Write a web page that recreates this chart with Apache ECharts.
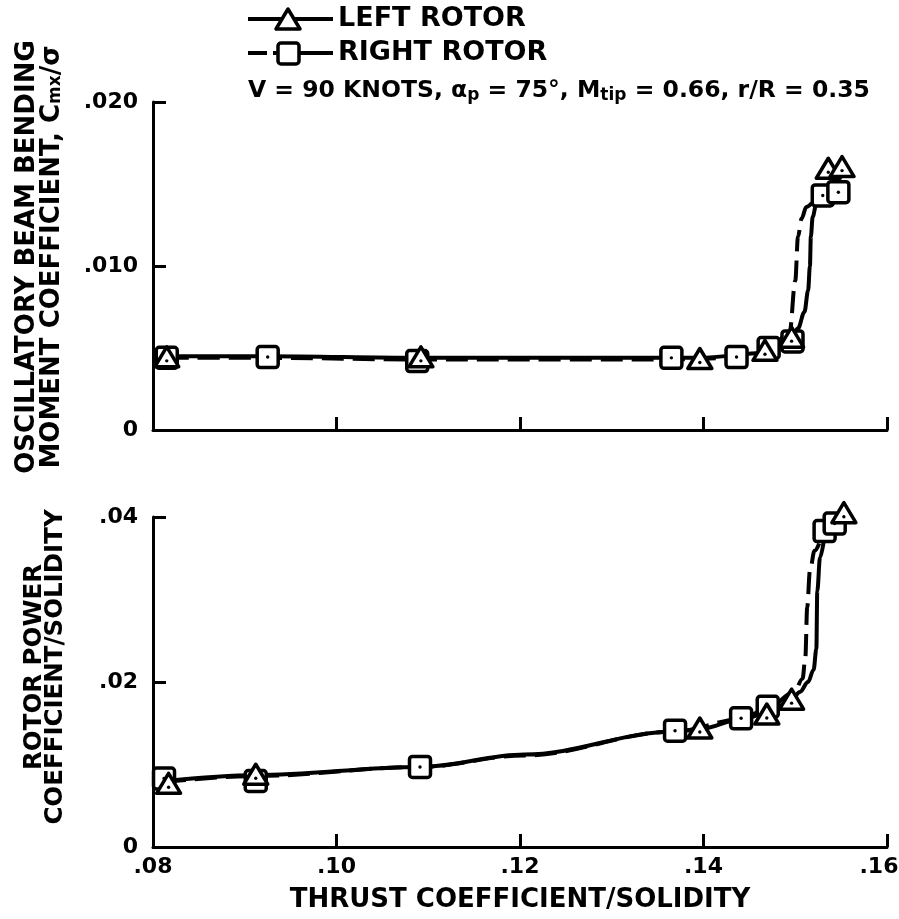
<!DOCTYPE html>
<html>
<head>
<meta charset="utf-8">
<script src="https://cdn.jsdelivr.net/npm/echarts@6/dist/echarts.min.js"></script>
<style>
  html, body { margin: 0; padding: 0; background: #fff; }
  #chart { width: 899px; height: 919px; }
</style>
</head>
<body>
<div id="chart"></div>
<script>
// Tick labels
const xTickLabels = ['.08', '.10', '.12', '.14', '.16'];
const momentTickLabels = ['0', '.010', '.020'];
const powerTickLabels = ['0', '.02', '.04'];

// Oscillatory beam bending moment coefficient: test points
const momentLeftX  = [0.0815, 0.1092, 0.1396, 0.1467, 0.1496, 0.1536, 0.1551];
const momentLeftY  = [0.0044, 0.0044, 0.0043, 0.0048, 0.0056, 0.0159, 0.0160];
const momentRightX = [0.0815, 0.0925, 0.1088, 0.1365, 0.1436, 0.1471, 0.1497, 0.1530, 0.1547];
const momentRightY = [0.0044, 0.00445, 0.0042, 0.0044, 0.00445, 0.0050, 0.0054, 0.0143, 0.0145];

// Oscillatory beam bending moment coefficient: faired curves
const momentLeftCurveX  = [0.0815, 0.0925, 0.1090, 0.1250, 0.1396, 0.1467, 0.1496, 0.1503, 0.1510, 0.1514, 0.1516, 0.1517, 0.1519, 0.1523, 0.1528];
const momentLeftCurveY  = [0.0045, 0.0045, 0.0044, 0.0044, 0.0044, 0.0047, 0.0056, 0.0062, 0.0072, 0.0085, 0.0100, 0.0118, 0.0130, 0.0138, 0.0142];
const momentRightCurveX = [0.0815, 0.0925, 0.1088, 0.1250, 0.1365, 0.1436, 0.1471, 0.1494, 0.1500, 0.1503, 0.1507, 0.1512, 0.1523];
const momentRightCurveY = [0.0044, 0.0044, 0.0043, 0.0043, 0.0043, 0.0044, 0.0048, 0.0060, 0.0091, 0.0118, 0.0129, 0.0136, 0.0142];

// Rotor power coefficient: test points
const powerLeftX  = [0.0817, 0.0912, 0.1396, 0.1469, 0.1496, 0.1553];
const powerLeftY  = [0.0076, 0.0087, 0.0143, 0.0160, 0.0178, 0.0404];
const powerRightX = [0.0812, 0.0912, 0.1091, 0.1369, 0.1441, 0.1470, 0.1532, 0.1543];
const powerRightY = [0.0083, 0.0080, 0.0097, 0.0141, 0.0156, 0.0170, 0.0383, 0.0392];

// Rotor power coefficient: faired curves
const powerLeftCurveX  = [0.0812, 0.0912, 0.1091, 0.1205, 0.1369, 0.1396, 0.1441, 0.1469, 0.1496, 0.1505, 0.1514, 0.1520, 0.1523, 0.1524, 0.1527, 0.1532];
const powerLeftCurveY  = [0.0080, 0.0087, 0.0097, 0.0112, 0.0140, 0.0143, 0.0155, 0.0162, 0.0178, 0.0188, 0.0200, 0.0215, 0.0240, 0.0310, 0.0351, 0.0378];
const powerRightCurveX = [0.0812, 0.0912, 0.1091, 0.1205, 0.1369, 0.1441, 0.1470, 0.1499, 0.1508, 0.1511, 0.1513, 0.1516, 0.1521, 0.1530];
const powerRightCurveY = [0.0079, 0.0086, 0.0097, 0.0111, 0.0140, 0.0155, 0.0168, 0.0188, 0.0204, 0.0230, 0.0290, 0.0335, 0.0359, 0.0380];

const FONT = '"DejaVu Sans", "Liberation Sans", sans-serif';
const zip = (xs, ys) => xs.map((x, i) => [x, ys[i]]);

function triangleMark(params, api) {
  const p = api.coord([api.value(0), api.value(1)]);
  return {
    type: 'group',
    children: [
      { type: 'polygon',
        shape: { points: [[p[0], p[1] - 11], [p[0] - 12, p[1] + 9], [p[0] + 12, p[1] + 9]] },
        style: { fill: '#fff', stroke: '#000', lineWidth: 3.5, lineJoin: 'round' } },
      { type: 'circle', shape: { cx: p[0], cy: p[1] + 3, r: 1.7 }, style: { fill: '#000' } }
    ]
  };
}

function squareMark(params, api) {
  const p = api.coord([api.value(0), api.value(1)]);
  return {
    type: 'group',
    children: [
      { type: 'rect',
        shape: { x: p[0] - 10.5, y: p[1] - 10.5, width: 21, height: 21, r: 3 },
        style: { fill: '#fff', stroke: '#000', lineWidth: 3.5 } },
      { type: 'circle', shape: { cx: p[0], cy: p[1], r: 1.7 }, style: { fill: '#000' } }
    ]
  };
}

const axisLineStyle = { color: '#000', width: 3 };

function xAxisFor(gridIndex, showLabels) {
  return {
    type: 'value', gridIndex,
    min: 0.08, max: 0.16, interval: 0.02,
    axisLine: { show: true, lineStyle: axisLineStyle },
    axisTick: { show: true, inside: true, length: 13, lineStyle: { color: '#000', width: 3 } },
    splitLine: { show: false },
    axisLabel: {
      show: showLabels, margin: 9,
      color: '#000', fontFamily: FONT, fontWeight: 'bold', fontSize: 22,
      formatter: v => {
        const i = Math.round((v - 0.08) / 0.02);
        // the last label sits a little left of its tick so it stays on the page
        return i === xTickLabels.length - 1 ? '{end|' + xTickLabels[i] + '}' : xTickLabels[i];
      },
      rich: { end: { fontFamily: FONT, fontWeight: 'bold', fontSize: 22, color: '#000', padding: [0, 16, 0, 0] } }
    },
    name: showLabels ? 'THRUST COEFFICIENT/SOLIDITY' : '',
    nameLocation: 'middle', nameGap: 40,
    nameTextStyle: { color: '#000', fontFamily: FONT, fontWeight: 'bold', fontSize: 26 }
  };
}

function yAxisFor(gridIndex, max, interval, labels, name, rich, nameGap, shift) {
  return {
    type: 'value', gridIndex,
    min: 0, max, interval,
    axisLine: { show: true, lineStyle: axisLineStyle },
    axisTick: { show: true, inside: true, length: 13, lineStyle: { color: '#000', width: 3 } },
    splitLine: { show: false },
    axisLabel: {
      margin: 15, color: '#000', fontFamily: FONT, fontWeight: 'bold', fontSize: 22,
      formatter: v => labels[Math.round(v / interval)]
    },
    name, nameLocation: 'middle', nameGap, nameRotate: 90,
    nameTextStyle: { color: '#000', fontFamily: FONT, fontWeight: 'bold', fontSize: 26,
      padding: [0, 0, 0, shift], rich }
  };
}

const titleToken = (fs, lh) => ({ fontFamily: FONT, fontWeight: 'bold', fontSize: fs, lineHeight: lh, color: '#000', verticalAlign: 'top' });
const subToken = pad => ({ fontFamily: FONT, fontWeight: 'bold', fontSize: 17, lineHeight: 17, color: '#000', verticalAlign: 'bottom', padding: [pad, 0, 0, 0] });

const chart = echarts.init(document.getElementById('chart'), null, { renderer: 'canvas' });
chart.setOption({
  animation: false,
  backgroundColor: '#fff',
  grid: [
    { left: 153, right: 12, top: 102, height: 328, outerBoundsMode: 'none', containLabel: false },
    { left: 153, right: 12, top: 517, height: 330, outerBoundsMode: 'none', containLabel: false }
  ],
  xAxis: [xAxisFor(0, false), xAxisFor(1, true)],
  yAxis: [
    yAxisFor(0, 0.02, 0.01, momentTickLabels,
      '{t|OSCILLATORY BEAM BENDING}\n{t|MOMENT COEFFICIENT, C}{m|m}{x|x}{t|/σ}',
      { t: titleToken(26, 25), m: subToken(11), x: subToken(16) },
      89, 18),
    yAxisFor(1, 0.04, 0.02, powerTickLabels,
      '{t|ROTOR POWER}\n{t|COEFFICIENT/SOLIDITY}', { t: titleToken(24.5, 21.5) }, 88, 30)
  ],
  graphic: [
    { type: 'line', shape: { x1: 248, y1: 19, x2: 333, y2: 19 }, style: { stroke: '#000', lineWidth: 4 } },
    { type: 'polygon', shape: { points: [[288, 9], [276, 29], [300, 29]] },
      style: { fill: '#fff', stroke: '#000', lineWidth: 3.5, lineJoin: 'round' } },
    { type: 'text', x: 338, y: 19,
      style: { text: 'LEFT ROTOR', fontFamily: FONT, fontWeight: 'bold', fontSize: 27, fill: '#000', verticalAlign: 'middle' } },
    { type: 'line', shape: { x1: 248, y1: 53, x2: 267, y2: 53 }, style: { stroke: '#000', lineWidth: 4 } },
    { type: 'line', shape: { x1: 273, y1: 53, x2: 333, y2: 53 }, style: { stroke: '#000', lineWidth: 4 } },
    { type: 'rect', shape: { x: 278, y: 43, width: 21, height: 21, r: 3 },
      style: { fill: '#fff', stroke: '#000', lineWidth: 3.5 } },
    { type: 'text', x: 338, y: 53,
      style: { text: 'RIGHT ROTOR', fontFamily: FONT, fontWeight: 'bold', fontSize: 27, fill: '#000', verticalAlign: 'middle' } },
    { type: 'text', x: 248, y: 79,
      style: {
        text: '{a|V = 90 KNOTS, α}{s|p}{a| = 75°, M}{s|tip}{a| = 0.66, r/R = 0.35}',
        verticalAlign: 'top',
        rich: {
          a: { fontFamily: FONT, fontWeight: 'bold', fontSize: 23.5, lineHeight: 25, fill: '#000', verticalAlign: 'top' },
          s: { fontFamily: FONT, fontWeight: 'bold', fontSize: 17, lineHeight: 17, fill: '#000', verticalAlign: 'bottom', padding: [12, 0, 0, 0] }
        }
      } }
  ],
  series: [
    { type: 'line', name: 'LEFT ROTOR', xAxisIndex: 0, yAxisIndex: 0,
      data: zip(momentLeftCurveX, momentLeftCurveY), showSymbol: false, smooth: 0.35, smoothMonotone: 'x',
      lineStyle: { color: '#000', width: 4 }, z: 2 },
    { type: 'line', name: 'RIGHT ROTOR', xAxisIndex: 0, yAxisIndex: 0,
      data: zip(momentRightCurveX, momentRightCurveY), showSymbol: false, smooth: 0.35, smoothMonotone: 'x',
      lineStyle: { color: '#000', width: 4, type: [22, 9] }, z: 2 },
    { type: 'line', name: 'LEFT ROTOR', xAxisIndex: 1, yAxisIndex: 1,
      data: zip(powerLeftCurveX, powerLeftCurveY), showSymbol: false, smooth: 0.35, smoothMonotone: 'x',
      lineStyle: { color: '#000', width: 4 }, z: 2 },
    { type: 'line', name: 'RIGHT ROTOR', xAxisIndex: 1, yAxisIndex: 1,
      data: zip(powerRightCurveX, powerRightCurveY), showSymbol: false, smooth: 0.35, smoothMonotone: 'x',
      lineStyle: { color: '#000', width: 4, type: [22, 9] }, z: 2 },
    { type: 'custom', name: 'RIGHT ROTOR', xAxisIndex: 0, yAxisIndex: 0, clip: false, z: 3,
      data: zip(momentRightX, momentRightY), renderItem: squareMark },
    { type: 'custom', name: 'LEFT ROTOR', xAxisIndex: 0, yAxisIndex: 0, clip: false, z: 4,
      data: zip(momentLeftX, momentLeftY), renderItem: triangleMark },
    { type: 'custom', name: 'RIGHT ROTOR', xAxisIndex: 1, yAxisIndex: 1, clip: false, z: 3,
      data: zip(powerRightX, powerRightY), renderItem: squareMark },
    { type: 'custom', name: 'LEFT ROTOR', xAxisIndex: 1, yAxisIndex: 1, clip: false, z: 4,
      data: zip(powerLeftX, powerLeftY), renderItem: triangleMark }
  ]
});
</script>
</body>
</html>
